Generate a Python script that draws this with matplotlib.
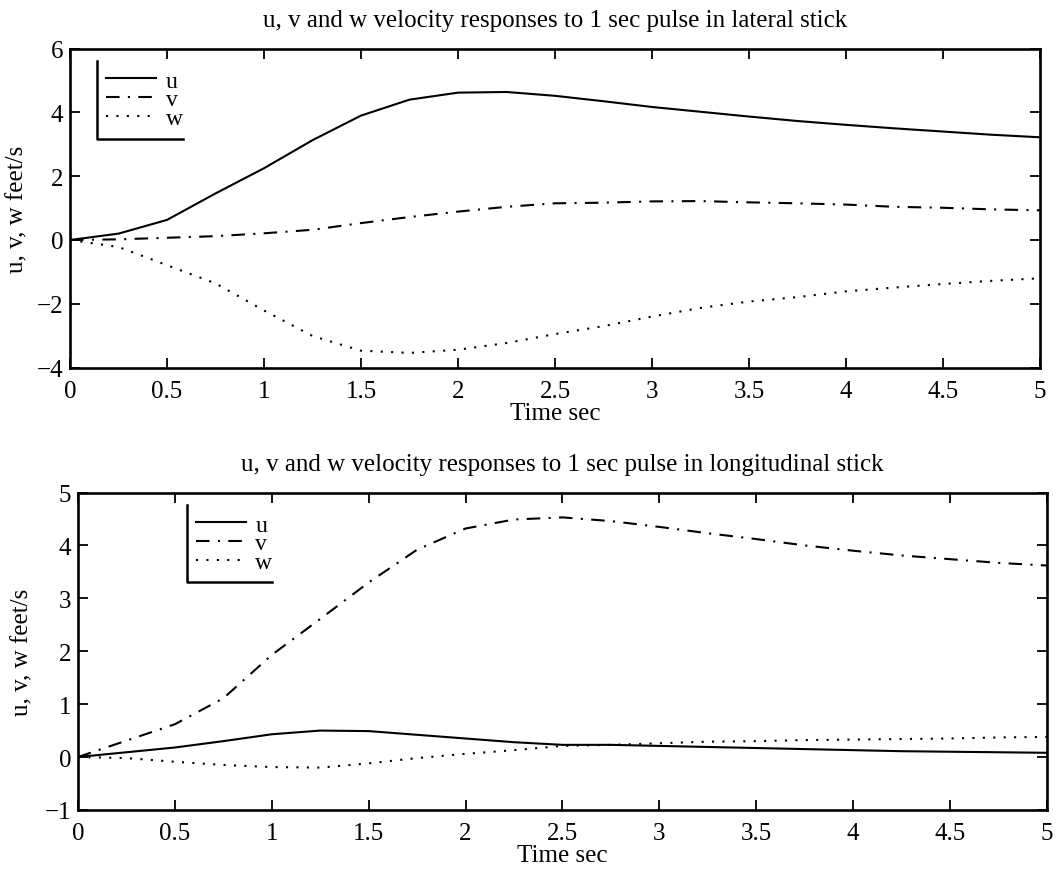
import matplotlib
matplotlib.use("Agg")
import matplotlib.pyplot as plt
from matplotlib.lines import Line2D

# Time samples (seconds)
t = [0, 0.25, 0.5, 0.75, 1.0, 1.25, 1.5, 1.75, 2.0, 2.25, 2.5,
     2.75, 3.0, 3.25, 3.5, 3.75, 4.0, 4.25, 4.5, 4.75, 5.0]

# Velocity responses to a 1 s lateral stick pulse (feet/s)
lat_u = [0, 0.20, 0.63, 1.46, 2.25, 3.13, 3.90, 4.40, 4.62, 4.64, 4.52,
         4.35, 4.17, 4.02, 3.87, 3.73, 3.61, 3.50, 3.40, 3.30, 3.22]
lat_v = [0, 0.02, 0.07, 0.12, 0.21, 0.32, 0.53, 0.72, 0.89, 1.04, 1.15,
         1.17, 1.21, 1.22, 1.18, 1.15, 1.11, 1.04, 1.01, 0.96, 0.93]
lat_w = [0, -0.22, -0.79, -1.36, -2.21, -3.01, -3.47, -3.54, -3.44, -3.23, -2.95,
         -2.70, -2.40, -2.13, -1.93, -1.79, -1.61, -1.49, -1.38, -1.28, -1.20]

# Velocity responses to a 1 s longitudinal stick pulse (feet/s)
lon_u = [0, 0.09, 0.18, 0.30, 0.43, 0.50, 0.49, 0.42, 0.35, 0.28, 0.23,
         0.23, 0.21, 0.19, 0.17, 0.15, 0.13, 0.11, 0.10, 0.09, 0.08]
lon_v = [0, 0.31, 0.62, 1.11, 1.93, 2.61, 3.30, 3.92, 4.32, 4.49, 4.53,
         4.46, 4.35, 4.23, 4.12, 4.00, 3.90, 3.81, 3.74, 3.67, 3.62]
lon_w = [0, -0.02, -0.09, -0.15, -0.19, -0.20, -0.12, -0.02, 0.06, 0.13, 0.21,
         0.23, 0.26, 0.29, 0.30, 0.32, 0.33, 0.34, 0.35, 0.37, 0.38]

x_ticks = [0, 0.5, 1, 1.5, 2, 2.5, 3, 3.5, 4, 4.5, 5]
x_ticklabels = ["0", "0.5", "1", "1.5", "2", "2.5", "3", "3.5", "4", "4.5", "5"]
lat_yticks = [-4, -2, 0, 2, 4, 6]
lon_yticks = [-1, 0, 1, 2, 3, 4, 5]

titles = ["u, v and w velocity responses to 1 sec pulse in lateral stick",
          "u, v and w velocity responses to 1 sec pulse in longitudinal stick"]
series_names = ["u", "v", "w"]

plt.rcParams["font.family"] = ["Liberation Serif", "DejaVu Serif"]

fig = plt.figure(figsize=(10.58, 8.78), dpi=100)
ax1 = fig.add_axes([0.0662, 0.5802, 0.9168, 0.3633])
ax2 = fig.add_axes([0.0737, 0.0764, 0.9159, 0.3615])

LW = 1.5
LEG_FS = 17
LEG_PAD = 0.4
styles = [dict(ls="-"), dict(ls=(0, (6.5, 4, 1, 4))), dict(ls=(0, (1, 4)))]


def draw(ax, u, v, w, yticks, title, legend_anchor, ylabel_x):
    for vals, st in zip((u, v, w), styles):
        ax.plot(t, vals, color="black", lw=LW, **st)
    ax.set_xlim(0, 5)
    ax.set_ylim(yticks[0], yticks[-1])
    ax.set_xticks(x_ticks)
    ax.set_xticklabels(x_ticklabels)
    ax.set_yticks(yticks)
    ax.tick_params(direction="in", top=True, right=True, length=7, width=1.3,
                   labelsize=18)
    ax.tick_params(axis="x", pad=9)
    ax.tick_params(axis="y", pad=5)
    for s in ax.spines.values():
        s.set_linewidth(1.9)
    ax.set_title(title, fontsize=18, pad=16)
    ax.set_xlabel("Time sec", fontsize=18)
    ax.xaxis.set_label_coords(0.5, -0.108)
    ax.set_ylabel("u, v, w feet/s", fontsize=18)
    ax.yaxis.set_label_coords(ylabel_x, 0.5)
    handles = [Line2D([], [], color="black", lw=LW, **st) for st in styles]
    leg = ax.legend(handles, series_names, loc="upper left",
                    bbox_to_anchor=legend_anchor, borderaxespad=0,
                    frameon=False, fontsize=LEG_FS, handlelength=2.1,
                    handletextpad=0.42, labelspacing=-0.12, borderpad=LEG_PAD)
    return leg


leg1 = draw(ax1, lat_u, lat_v, lat_w, lat_yticks, titles[0], (0.0275, 0.962), -0.043)
leg2 = draw(ax2, lon_u, lon_v, lon_w, lon_yticks, titles[1], (0.112, 0.962), -0.046)

# Legend boxes drawn as an open frame (left and bottom edges)
fig.canvas.draw()
inv = fig.transFigure.inverted()
pad_px = LEG_PAD * LEG_FS * fig.dpi / 72
for leg in (leg1, leg2):
    ext = leg.get_window_extent()
    x0, y0 = inv.transform((ext.x0, ext.y0))
    x1, y1 = inv.transform((ext.x1 - pad_px, ext.y1))
    fig.add_artist(Line2D([x0, x0, x1], [y1, y0, y0],
                          transform=fig.transFigure, color="black", lw=1.8))

fig.savefig("out.png", dpi=100)
